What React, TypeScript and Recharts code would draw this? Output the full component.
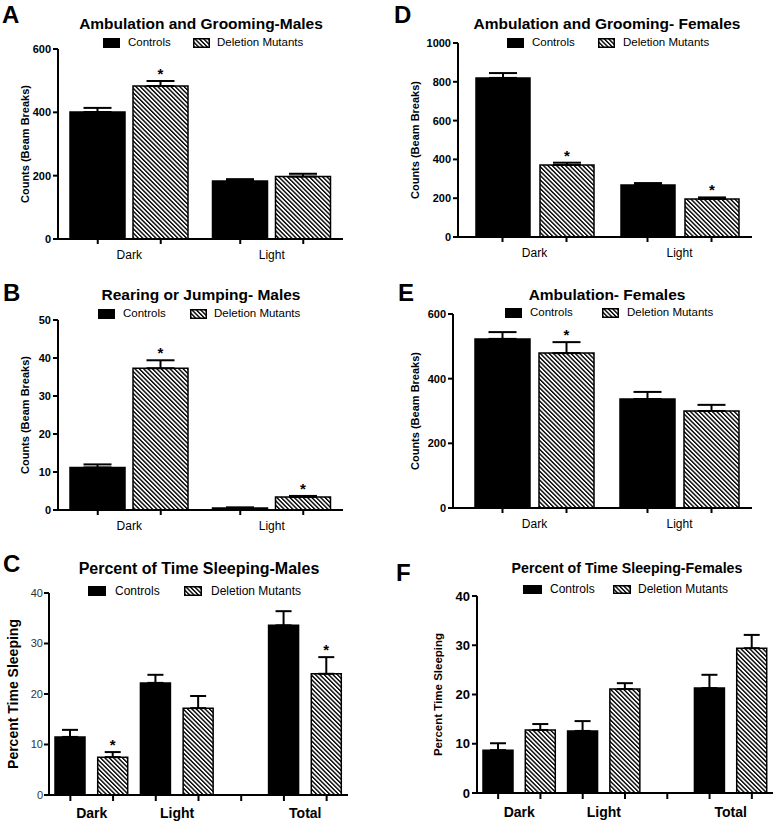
import React from "react";
import {
  BarChart,
  Bar,
  XAxis,
  YAxis,
  ErrorBar,
  LabelList,
  Cell,
} from "recharts";

// ================= Data =================
const lightCats = ["Dark", "Light"];
const sleepCats = ["Dark", "Light", "Total"];

// A - ambulation and grooming, males
const ambGroomMaleCtrl = [401, 183];
const ambGroomMaleCtrlErr = [13, 6];
const ambGroomMaleMut = [483, 197];
const ambGroomMaleMutErr = [16, 9];
const ambGroomMaleSig = [true, false];

// B - rearing or jumping, males
const rearMaleCtrl = [11.2, 0.5];
const rearMaleCtrlErr = [0.8, 0.2];
const rearMaleMut = [37.3, 3.4];
const rearMaleMutErr = [2.1, 0.3];
const rearMaleSig = [true, true];

// C - percent time sleeping, males
const sleepMaleCtrl = [11.5, 22.2, 33.6];
const sleepMaleCtrlErr = [1.4, 1.6, 2.8];
const sleepMaleMut = [7.5, 17.2, 24.0];
const sleepMaleMutErr = [1.0, 2.4, 3.3];
const sleepMaleSig = [true, false, true];

// D - ambulation and grooming, females
const ambGroomFemCtrl = [820, 268];
const ambGroomFemCtrlErr = [25, 10];
const ambGroomFemMut = [371, 196];
const ambGroomFemMutErr = [12, 8];
const ambGroomFemSig = [true, true];

// E - ambulation, females
const ambFemCtrl = [523, 337];
const ambFemCtrlErr = [21, 22];
const ambFemMut = [479, 300];
const ambFemMutErr = [34, 19];
const ambFemSig = [true, false];

// F - percent time sleeping, females
const sleepFemCtrl = [8.7, 12.6, 21.3];
const sleepFemCtrlErr = [1.4, 2.0, 2.7];
const sleepFemMut = [12.8, 21.1, 29.4];
const sleepFemMutErr = [1.2, 1.2, 2.7];
const sleepFemSig = [false, false, false];

const ticks600 = [0, 200, 400, 600];
const ticks50 = [0, 10, 20, 30, 40, 50];
const ticks1000 = [0, 200, 400, 600, 800, 1000];
const ticks40 = [0, 10, 20, 30, 40];

const FONT = "Arial, 'Liberation Sans', Helvetica, sans-serif";
const HATCH = "url(#hatch)";

// ================= Small pieces =================
const Letter = ({ x, y, ch }: any) => (
  <div
    style={{
      position: "absolute",
      left: x,
      top: y,
      fontSize: 24,
      fontWeight: "bold",
      lineHeight: "24px",
    }}
  >
    {ch}
  </div>
);

const Title = ({ cx, cy, text, size }: any) => (
  <div
    style={{
      position: "absolute",
      left: cx - 200,
      width: 400,
      top: cy - size * 0.6,
      textAlign: "center",
      fontSize: size,
      fontWeight: "bold",
      lineHeight: `${size * 1.2}px`,
      whiteSpace: "nowrap",
    }}
  >
    {text}
  </div>
);

const Swatch = ({ fill, w, h }: any) => (
  <svg width={w} height={h} style={{ display: "block" }}>
    <rect x={0.75} y={0.75} width={w - 1.5} height={h - 1.5} fill={fill} stroke="#000" strokeWidth={1.5} />
  </svg>
);

const LegendRow = ({ y, sw1, tx1, sw2, tx2, size = 12, h = 10 }: any) => (
  <>
    <div style={{ position: "absolute", left: sw1[0], top: y - h / 2 }}>
      <Swatch fill="#000" w={sw1[1] - sw1[0]} h={h} />
    </div>
    <div style={{ position: "absolute", left: tx1, top: y - size * 0.6, fontSize: size, lineHeight: `${size * 1.2}px` }}>
      Controls
    </div>
    <div style={{ position: "absolute", left: sw2[0], top: y - h / 2 }}>
      <Swatch fill={HATCH} w={sw2[1] - sw2[0]} h={h} />
    </div>
    <div style={{ position: "absolute", left: tx2, top: y - size * 0.6, fontSize: size, lineHeight: `${size * 1.2}px`, whiteSpace: "nowrap" }}>
      Deletion Mutants
    </div>
  </>
);

// star label: value is "bar|err" for significant bars, "" otherwise
const starContent = (p: any) => {
  const { x, y, width, height, value } = p;
  if (!value || !height) return null;
  const [v, e] = String(value).split("|").map(Number);
  if (!v) return null;
  const px = (Number(height) / v) * e;
  return (
    <text x={Number(x) + Number(width) / 2} y={Number(y) - px - 2} textAnchor="middle" fontSize={15} fontWeight="bold" fill="#000" fontFamily={FONT}>
      *
    </text>
  );
};

const axisStroke = { stroke: "#000", strokeWidth: 2 };

// ================= Grouped panel (A, B, D, E) =================
const GroupedPanel = (p: any) => {
  const rows = p.cats.map((c: string, i: number) => ({
    cat: c,
    controls: p.ctrl[i],
    controlsErr: [0, p.ctrlErr[i]],
    mutants: p.mut[i],
    mutantsErr: [0, p.mutErr[i]],
    star: p.sig[i] ? `${p.mut[i]}|${p.mutErr[i]}` : "",
  }));
  const half = (p.barSize + p.barGap) / 2;
  const tick = (t: any) => (
    <g>
      <line x1={t.x - half} x2={t.x - half} y1={t.y} y2={t.y + 5} {...axisStroke} />
      <line x1={t.x + half} x2={t.x + half} y1={t.y} y2={t.y + 5} {...axisStroke} />
      <text x={t.x} y={t.y + 20} textAnchor="middle" fontSize={12} fill="#000" fontFamily={FONT}>
        {t.payload.value}
      </text>
    </g>
  );
  return (
    <div style={{ position: "absolute", left: p.left, top: p.top }}>
      <BarChart
        width={p.width}
        height={p.height}
        data={rows}
        margin={p.margin}
        barSize={p.barSize}
        barGap={p.barGap}
      >
        <XAxis
          dataKey="cat"
          axisLine={axisStroke}
          tickLine={false}
          tickSize={0}
          tickMargin={0}
          height={20}
          padding={{ left: p.padLeft, right: 0 }}
          tick={tick}
          interval={0}
        />
        <YAxis
          width={p.yw}
          domain={[0, p.ticks[p.ticks.length - 1]]}
          ticks={p.ticks}
          interval={0}
          axisLine={axisStroke}
          tickLine={axisStroke}
          tickSize={5}
          tickMargin={2}
          tick={{ fontSize: 11, fontWeight: "bold", fill: "#000", fontFamily: FONT }}
          label={{
            value: p.yLabel,
            angle: -90,
            position: "center",
            dx: p.labelDx,
            style: { fontSize: 11, fontWeight: "bold", fill: "#000", fontFamily: FONT, whiteSpace: "pre" },
          }}
        />
        <Bar dataKey="controls" fill="#000" stroke="#000" strokeWidth={1.5} isAnimationActive={false}>
          <ErrorBar dataKey="controlsErr" width={14} stroke="#000" strokeWidth={2} />
        </Bar>
        <Bar dataKey="mutants" fill={HATCH} stroke="#000" strokeWidth={1.5} isAnimationActive={false}>
          <ErrorBar dataKey="mutantsErr" width={14} stroke="#000" strokeWidth={2} />
          <LabelList dataKey="star" content={starContent} />
        </Bar>
      </BarChart>
    </div>
  );
};

// ================= Slot panel (C, F) =================
const SlotPanel = (p: any) => {
  const rows: any[] = [];
  p.cats.forEach((g: string, i: number) => {
    rows.push({ slot: `${g}-c`, label: g, first: true, kind: "c", value: p.ctrl[i], err: [0, p.ctrlErr[i]], star: "" });
    rows.push({
      slot: `${g}-m`, label: g, first: false, kind: "m", value: p.mut[i], err: [0, p.mutErr[i]],
      star: p.sig[i] ? `${p.mut[i]}|${p.mutErr[i]}` : "",
    });
    // empty slot between Light and Total
    if (g === "Light") rows.push({ slot: "gap", label: "", first: false, kind: "c", value: null, err: undefined, star: "" });
  });
  const plotW = p.width - p.margin.left - p.margin.right - p.yw;
  const half = plotW / rows.length / 2;
  const tick = (t: any) => {
    const r = rows[t.index];
    return (
      <g>
        <line x1={t.x} x2={t.x} y1={t.y} y2={t.y + 6} {...axisStroke} />
        {r && r.first ? (
          <text x={t.x + half} y={t.y + p.xLabelDy} textAnchor="middle" fontSize={14} fontWeight="bold" fill="#000" fontFamily={FONT}>
            {r.label}
          </text>
        ) : null}
      </g>
    );
  };
  return (
    <div style={{ position: "absolute", left: p.left, top: p.top }}>
      <BarChart width={p.width} height={p.height} data={rows} margin={p.margin} barSize={30}>
        <XAxis
          dataKey="slot"
          axisLine={axisStroke}
          tickLine={false}
          tickSize={0}
          tickMargin={0}
          height={20}
          tick={tick}
          interval={0}
        />
        <YAxis
          width={p.yw}
          domain={[0, 40]}
          ticks={ticks40}
          interval={0}
          axisLine={axisStroke}
          tickLine={axisStroke}
          tickSize={5}
          tickMargin={p.yTickMargin}
          tick={p.yTick}
          label={{
            value: "Percent Time Sleeping",
            angle: -90,
            position: "center",
            dx: p.labelDx,
            style: { fontSize: p.labelSize, fontWeight: "bold", fill: "#000", fontFamily: FONT },
          }}
        />
        <Bar dataKey="value" stroke="#000" strokeWidth={1.5} isAnimationActive={false}>
          {rows.map((r, i) => (
            <Cell key={i} fill={r.kind === "c" ? "#000" : HATCH} />
          ))}
          <ErrorBar dataKey="err" width={8} stroke="#000" strokeWidth={2} />
          <LabelList dataKey="star" content={starContent} />
        </Bar>
      </BarChart>
    </div>
  );
};

// ================== UI ==================
const App = () => {
  return (
    <div
      style={{
        position: "absolute",
        left: 0,
        top: 0,
        width: 777,
        height: 822,
        background: "#fff",
        fontFamily: FONT,
        color: "#000",
        overflow: "hidden",
      }}
    >
      <svg width={0} height={0} style={{ position: "absolute" }}>
        <defs>
          <pattern id="hatch" patternUnits="userSpaceOnUse" width={3.1} height={3.1} patternTransform="rotate(-45)">
            <rect width={3.1} height={3.1} fill="#fff" />
            <rect width={1.4} height={3.1} fill="#000" />
          </pattern>
        </defs>
      </svg>

      {/* A */}
      <Letter x={2} y={3} ch="A" />
      <Title cx={201} cy={24} size={15.5} text="Ambulation and Grooming-Males" />
      <LegendRow y={43} sw1={[103, 120]} tx1={128} sw2={[193, 210]} tx2={217} size={11.5} />
      <GroupedPanel
        left={0} top={0} width={390} height={270}
        margin={{ top: 49, right: 47, bottom: 11, left: 0 }}
        yw={58} ticks={ticks600} cats={lightCats}
        ctrl={ambGroomMaleCtrl} ctrlErr={ambGroomMaleCtrlErr}
        mut={ambGroomMaleMut} mutErr={ambGroomMaleMutErr} sig={ambGroomMaleSig}
        barSize={55} barGap={8} padLeft={0}
        yLabel="Counts (Beam  Breaks)" labelDx={-4}
      />

      {/* B */}
      <Letter x={3} y={281} ch="B" />
      <Title cx={201} cy={295} size={15.5} text="Rearing or Jumping- Males" />
      <LegendRow y={314} sw1={[98, 115]} tx1={123} sw2={[190, 207]} tx2={214} size={11.5} />
      <GroupedPanel
        left={0} top={270} width={390} height={270}
        margin={{ top: 50, right: 47, bottom: 10, left: 0 }}
        yw={58} ticks={ticks50} cats={lightCats}
        ctrl={rearMaleCtrl} ctrlErr={rearMaleCtrlErr}
        mut={rearMaleMut} mutErr={rearMaleMutErr} sig={rearMaleSig}
        barSize={55} barGap={8} padLeft={0}
        yLabel="Counts (Beam  Breaks)" labelDx={-4}
      />

      {/* C */}
      <Letter x={3} y={552} ch="C" />
      <Title cx={199} cy={569} size={16} text="Percent of Time Sleeping-Males" />
      <LegendRow y={591} sw1={[88, 106]} tx1={115} sw2={[184, 202]} tx2={211} size={12} />
      <SlotPanel
        left={0} top={540} width={390} height={282}
        margin={{ top: 53, right: 42, bottom: 7, left: 0 }}
        yw={49} cats={sleepCats}
        ctrl={sleepMaleCtrl} ctrlErr={sleepMaleCtrlErr}
        mut={sleepMaleMut} mutErr={sleepMaleMutErr} sig={sleepMaleSig}
        yTick={{ fontSize: 11, fill: "#333", fontFamily: FONT }}
        yTickMargin={1}
        labelSize={14} labelDx={-11} xLabelDy={23}
      />

      {/* D */}
      <Letter x={394} y={3} ch="D" />
      <Title cx={607} cy={24} size={15.5} text="Ambulation and Grooming- Females" />
      <LegendRow y={43} sw1={[507, 524]} tx1={532} sw2={[598, 615]} tx2={623} size={11.5} />
      <GroupedPanel
        left={390} top={0} width={387} height={270}
        margin={{ top: 43, right: 25, bottom: 13, left: 0 }}
        yw={68} ticks={ticks1000} cats={lightCats}
        ctrl={ambGroomFemCtrl} ctrlErr={ambGroomFemCtrlErr}
        mut={ambGroomFemMut} mutErr={ambGroomFemMutErr} sig={ambGroomFemSig}
        barSize={54} barGap={10} padLeft={4}
        yLabel="Counts (Beam Breaks)" labelDx={-9}
      />

      {/* E */}
      <Letter x={398} y={281} ch="E" />
      <Title cx={607} cy={295} size={15.5} text="Ambulation- Females" />
      <LegendRow y={313} sw1={[505, 522]} tx1={530} sw2={[602, 619]} tx2={627} size={11.5} />
      <GroupedPanel
        left={390} top={270} width={387} height={270}
        margin={{ top: 44, right: 25, bottom: 12, left: 0 }}
        yw={63} ticks={ticks600} cats={lightCats}
        ctrl={ambFemCtrl} ctrlErr={ambFemCtrlErr}
        mut={ambFemMut} mutErr={ambFemMutErr} sig={ambFemSig}
        barSize={55} barGap={9} padLeft={9}
        yLabel="Counts (Beam Breaks)" labelDx={-6}
      />

      {/* F */}
      <Letter x={396} y={561} ch="F" />
      <Title cx={627} cy={569} size={14.2} text="Percent of Time Sleeping-Females" />
      <LegendRow y={589} sw1={[523, 542]} tx1={550} sw2={[613, 631]} tx2={638} size={12} h={9} />
      <SlotPanel
        left={390} top={540} width={387} height={282}
        margin={{ top: 56, right: 4, bottom: 9, left: 0 }}
        yw={87} cats={sleepCats}
        ctrl={sleepFemCtrl} ctrlErr={sleepFemCtrlErr}
        mut={sleepFemMut} mutErr={sleepFemMutErr} sig={sleepFemSig}
        yTick={{ fontSize: 13, fontWeight: "bold", fill: "#000", fontFamily: FONT }}
        yTickMargin={2}
        labelSize={11.5} labelDx={4} xLabelDy={24}
      />
    </div>
  );
};

export default App;
